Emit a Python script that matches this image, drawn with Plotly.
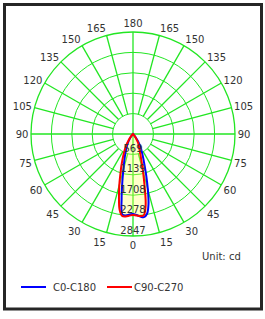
import numpy as np
import plotly.graph_objects as go

W, H = 265, 319

# ---- data ----
gamma = [0, 2.5, 5, 7.5, 10, 12.5, 15, 17.5, 20, 25, 30, 35, 40, 45, 50, 60, 90, 120, 150, 180]
c0   = [2230, 2260, 2310, 2340, 2260, 2000, 1600, 1240, 960, 620, 420, 230, 90, 25, 0, 0, 0, 0, 0, 0]
c180 = [2230, 2250, 2280, 2270, 1830, 1380, 1040, 820, 660, 440, 280, 140, 50, 10, 0, 0, 0, 0, 0, 0]
c90  = [2260, 2280, 2300, 2290, 2030, 1500, 1080, 780, 600, 400, 290, 150, 50, 10, 0, 0, 0, 0, 0, 0]
c270 = [2260, 2280, 2310, 2310, 2150, 1810, 1480, 1170, 950, 620, 410, 220, 80, 20, 0, 0, 0, 0, 0, 0]
ring_vals = [569.4, 1138.8, 1708.2, 2277.6, 2847]
ring_labels = ["569", "1139", "1708", "2278", "2847"]
ang_ticks = list(range(0, 360, 15))
ang_labels = [str(a if a <= 180 else 360 - a) for a in ang_ticks]
series_names = ["C0-C180", "C90-C270"]
series_colors = ["#0000ff", "#ff0000"]
rmax = 2847

FONT = "DejaVu Sans"
GREEN = "#22e622"
TXT = "#333333"

def full_curve(right, left):
    g = np.array(gamma, float)
    th = np.concatenate([-g[::-1], g[1:]])
    r = np.concatenate([np.array(left, float)[::-1], np.array(right, float)[1:]])
    return th, r

th_b, r_b = full_curve(c0, c180)
th_r, r_r = full_curve(c90, c270)
env = np.maximum(r_b, r_r)

fig = go.Figure()

# radial grid lines (spokes) — start at first ring except main axes
sp_t, sp_r = [], []
for a in ang_ticks:
    r0 = 0 if a % 90 == 0 else ring_vals[0]
    sp_t += [a, a, None]
    sp_r += [r0, rmax, None]
fig.add_trace(go.Scatterpolar(theta=sp_t, r=sp_r, mode="lines",
                              line=dict(color=GREEN, width=1.3),
                              hoverinfo="skip", showlegend=False, connectgaps=False))

# fill envelope
fig.add_trace(go.Scatterpolar(theta=th_b, r=env, mode="lines", fill="toself",
                              fillcolor="rgba(255,255,80,0.3)", line=dict(width=0),
                              line_shape="spline", hoverinfo="skip", showlegend=False))

fig.add_trace(go.Scatterpolar(theta=th_b, r=r_b, mode="lines", name=series_names[0],
                              showlegend=False,
                              line=dict(color=series_colors[0], width=2, shape="spline")))
fig.add_trace(go.Scatterpolar(theta=th_r, r=r_r, mode="lines", name=series_names[1],
                              showlegend=False,
                              line=dict(color=series_colors[1], width=2, shape="spline")))

# radial labels
fig.add_trace(go.Scatterpolar(theta=[0] * len(ring_vals), r=ring_vals, mode="text",
                              text=ring_labels, textposition="top center",
                              textfont=dict(family=FONT, size=10, color=TXT),
                              hoverinfo="skip", showlegend=False))

def px(x):
    return x / W

def py(y):
    return 1 - y / H

shapes = [dict(type="rect", xref="paper", yref="paper",
               x0=px(4.5), x1=px(261.5), y0=py(309), y1=py(4.5),
               line=dict(color="#262626", width=3))]
annotations = [dict(text="Unit: cd", xref="paper", yref="paper",
                    x=px(243), y=py(256), xanchor="right", yanchor="middle",
                    showarrow=False, font=dict(family=FONT, size=10, color=TXT))]

# manual legend
leg_x = [21, 107]
for i, (nm, col) in enumerate(zip(series_names, series_colors)):
    x0 = leg_x[i]
    shapes.append(dict(type="line", xref="paper", yref="paper",
                       x0=px(x0), x1=px(x0 + 25), y0=py(287), y1=py(287),
                       line=dict(color=col, width=2)))
    annotations.append(dict(text=nm, xref="paper", yref="paper",
                            x=px(x0 + 25 + (5 if i == 0 else 0)), y=py(287),
                            xanchor="left", yanchor="middle", showarrow=False,
                            font=dict(family=FONT, size=10, color=TXT)))

fig.update_layout(
    width=W, height=H,
    margin=dict(l=0, r=0, t=0, b=0),
    paper_bgcolor="white",
    font=dict(family=FONT, size=10, color=TXT),
    polar=dict(
        domain=dict(x=[px(31), px(235)], y=[py(236), py(32)]),
        bgcolor="white",
        angularaxis=dict(rotation=-90, direction="counterclockwise",
                         tickmode="array", tickvals=ang_ticks, ticktext=ang_labels,
                         showgrid=False, showline=True, linecolor=GREEN, linewidth=1.3,
                         ticks="", tickfont=dict(family=FONT, size=10, color=TXT)),
        radialaxis=dict(range=[0, rmax], tickmode="array", tickvals=ring_vals,
                        showticklabels=False, ticks="", showline=False,
                        gridcolor=GREEN, gridwidth=1.3),
    ),
    showlegend=False,
    shapes=shapes,
    annotations=annotations,
)

fig.write_html("out.html")
